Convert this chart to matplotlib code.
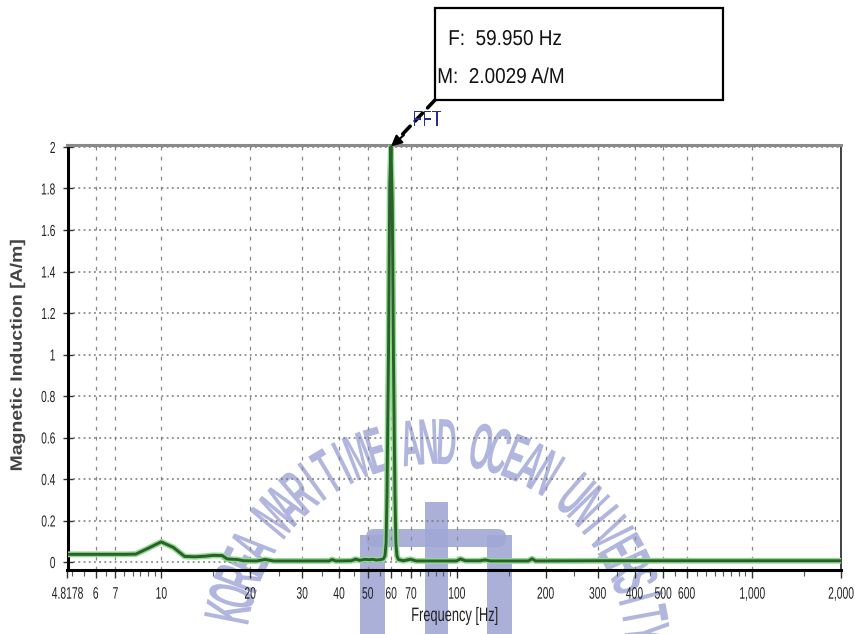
import numpy as np
import matplotlib
matplotlib.use("Agg")
import matplotlib.pyplot as plt
from matplotlib.patches import Rectangle, FancyBboxPatch
from matplotlib.transforms import Affine2D
from matplotlib.patheffects import AbstractPathEffect
from matplotlib.ticker import FixedLocator, LogLocator, NullFormatter

# ---------------- data ----------------
freq_hz = [4.8178, 5.5, 6.5, 7.5, 8.2, 9.0, 10.0, 11.0, 12.0, 13.0, 14.1, 15.0,
           16.1, 16.7, 17.5, 18.1, 19.0, 21.0, 22.5, 24.0, 30.0, 37.0, 37.9,
           39.0, 44.0, 45.5, 47.0, 49.0, 50.5, 52.0, 53.5, 55.5, 56.5, 57.2,
           57.7, 58.1, 58.8, 59.35, 59.95, 60.56, 61.1, 61.85, 62.3, 62.8,
           63.5, 66.0, 69.8, 73.0, 90.0, 100.0, 103.0, 107.0, 120.0, 125.0,
           130.0, 175.0, 180.0, 185.0, 300.0, 2000.0]
magnitude = [0.037, 0.037, 0.037, 0.037, 0.038, 0.065, 0.097, 0.07, 0.027,
             0.025, 0.028, 0.032, 0.031, 0.015, 0.013, 0.012, 0.006, 0.005,
             0.012, 0.005, 0.005, 0.005, 0.012, 0.005, 0.006, 0.014, 0.008,
             0.013, 0.011, 0.013, 0.009, 0.012, 0.015, 0.03, 0.09, 0.31, 1.0,
             1.8, 2.0029, 1.72, 1.0, 0.31, 0.09, 0.03, 0.012, 0.006, 0.013,
             0.005, 0.005, 0.005, 0.015, 0.006, 0.006, 0.01, 0.005, 0.005,
             0.016, 0.005, 0.006, 0.006]

x_ticks = [4.8178, 6, 7, 10, 20, 30, 40, 50, 60, 70, 100, 200, 300, 400, 500,
           600, 1000, 2000]
x_tick_labels = ["4.8178", "6", "7", "10", "20", "30", "40", "50", "60", "70",
                 "100", "200", "300", "400", "500", "600", "1,000", "2,000"]
y_ticks = [0, 0.2, 0.4, 0.6, 0.8, 1.0, 1.2, 1.4, 1.6, 1.8, 2.0]
y_tick_labels = ["0", "0.2", "0.4", "0.6", "0.8", "1", "1.2", "1.4", "1.6",
                 "1.8", "2"]

peak_freq = 59.95
peak_mag = 2.0029
info_lines = ["F:  59.950 Hz", "M:  2.0029 A/M"]
trace_label = "FFT"
x_label = "Frequency [Hz]"
y_label = "Magnetic Induction [A/m]"
watermark_text = "KOREA MARITIME AND OCEAN UNIVERSITY"


# ------------- condensed text rendering (text stays real text) -------------
class Squeeze(AbstractPathEffect):
    def __init__(self, sx=1.0, sy=1.0, anchor="center"):
        super().__init__()
        self.sx, self.sy, self.anchor = sx, sy, anchor

    def draw_path(self, renderer, gc, tpath, affine, rgbFace=None):
        ext = tpath.get_extents()
        if self.anchor == "left":
            ax0 = ext.x0
        elif self.anchor == "right":
            ax0 = ext.x1
        else:
            ax0 = (ext.x0 + ext.x1) / 2
        ay = (ext.y0 + ext.y1) / 2
        pre = (Affine2D().translate(-ax0, -ay).scale(self.sx, self.sy)
               .translate(ax0, ay))
        renderer.draw_path(gc, tpath, pre + affine, rgbFace)


# ---------------- figure ----------------
W_PX, H_PX = 855, 634
fig = plt.figure(figsize=(W_PX / 100, H_PX / 100), dpi=100)
fig.patch.set_facecolor("white")


def fx(px):
    return px / W_PX


def fy(py):
    return 1 - py / H_PX


regular = ["Liberation Sans", "DejaVu Sans"]

# ---------------- watermark (behind everything) ----------------
wm = fig.add_axes([0, 0, 1, 1], zorder=-1)
wm.set_xlim(0, W_PX)
wm.set_ylim(0, H_PX)
wm.axis("off")
wm_color = "#a9aedb"
cx, cy, rad = 436, H_PX - 654, 190
start_deg, step_deg = 168.9, 4.8
for i, ch in enumerate(watermark_text):
    if ch == " ":
        continue
    theta = np.deg2rad(start_deg - i * step_deg)
    wm.text(cx + rad * np.cos(theta), cy + rad * np.sin(theta), ch,
            rotation=np.rad2deg(theta) - 90, rotation_mode="anchor",
            ha="center", va="baseline", family=regular, fontweight="bold",
            fontsize=47, color=wm_color, alpha=0.9,
            path_effects=[Squeeze(sx=0.43)])
emb = "#a2a8d5"
wm.add_patch(FancyBboxPatch((366, H_PX - 547), 140, 18,
                            boxstyle="round,pad=0,rounding_size=8",
                            facecolor=emb, edgecolor="none", alpha=0.9))
for (x0, y0, x1, y1) in [(360, 535, 385, 634), (487, 535, 512, 634),
                         (425, 502, 448, 634)]:
    wm.add_patch(Rectangle((x0, H_PX - y1), x1 - x0, y1 - y0,
                           facecolor=emb, edgecolor="none", alpha=0.9))

# ---------------- main axes ----------------
L, R, T, B = 67.5, 841, 145, 570
ax = fig.add_axes([fx(L), fy(B), fx(R - L), fy(T) - fy(B)], zorder=1)
ax.set_facecolor("none")
ax.set_xscale("log")
ax.set_xlim(4.8178, 2000)
ax.set_ylim(-8 / 207.5, 2 + 2 / 207.5)

ax.plot(freq_hz, magnitude, color="#8fdc8f", lw=4.2, solid_joinstyle="round",
        zorder=3)
ax.plot(freq_hz, magnitude, color="#2c5f2c", lw=2.1, solid_joinstyle="round",
        zorder=4)

ax.xaxis.set_major_locator(FixedLocator(x_ticks))
ax.set_xticklabels(x_tick_labels)
ax.xaxis.set_minor_locator(LogLocator(base=10, subs=np.arange(1, 10, 0.5),
                                      numticks=50))
ax.xaxis.set_minor_formatter(NullFormatter())
ax.set_yticks(y_ticks)
ax.set_yticklabels(y_tick_labels)

for lab in ax.get_xticklabels():
    lab.set_family(regular)
    lab.set_fontsize(12)
    lab.set_color("#222222")
    lab.set_path_effects([Squeeze(sx=0.62, anchor="center")])
for lab in ax.get_yticklabels():
    lab.set_family(regular)
    lab.set_fontsize(11.5)
    lab.set_color("#222222")
    lab.set_path_effects([Squeeze(sx=0.64, anchor="right")])

ax.tick_params(axis="x", which="major", direction="out", length=6, width=1,
               pad=6, color="#333333")
ax.tick_params(axis="x", which="minor", direction="out", length=4, width=0.8,
               color="#555555")
ax.tick_params(axis="y", which="major", direction="inout", length=7, width=1,
               pad=5, color="#333333")

# grid
ax.grid(True, axis="y", which="major", linestyle=(0, (1.2, 2.2)),
        color="#777777", lw=1.1, zorder=1)
ax.grid(True, axis="x", which="major", linestyle=(0, (3, 5)),
        color="#888888", lw=0.9, zorder=1)

for side in ["left", "bottom"]:
    ax.spines[side].set_color("black")
    ax.spines[side].set_linewidth(2.2)
ax.spines["right"].set_color("#333333")
ax.spines["right"].set_linewidth(1.3)
ax.spines["top"].set_color("#8a8a8a")
ax.spines["top"].set_linewidth(2.2)

fig.text(fx(455), fy(621), x_label, ha="center", va="baseline",
         family=regular, fontsize=14, color="#222222",
         path_effects=[Squeeze(sx=0.66)])
fig.text(fx(18), fy(355), y_label, ha="center", va="center", rotation=90,
         family=regular, fontsize=14, color="#444444", fontweight="bold",
         path_effects=[Squeeze(sy=0.85)])

# ---------------- annotation box ----------------
box = Rectangle((fx(435), fy(100)), fx(723 - 435), fy(8) - fy(100),
                transform=fig.transFigure, facecolor="white",
                edgecolor="black", lw=1.6, zorder=5)
fig.patches.append(box)
fig.text(fx(448), fy(45), info_lines[0], ha="left", va="baseline",
         family=regular, fontsize=15.5, color="#111111", zorder=6,
         path_effects=[Squeeze(sx=0.88, anchor="left")])
fig.text(fx(437), fy(83), info_lines[1], ha="left", va="baseline",
         family=regular, fontsize=15.5, color="#111111", zorder=6,
         path_effects=[Squeeze(sx=0.88, anchor="left")])

fig.text(fx(427), fy(126), trace_label, ha="center", va="baseline",
         family=regular, fontsize=16, color="#2a2a99", zorder=6,
         path_effects=[Squeeze(sx=0.72)])

# dashed leader line + arrow head
ax.annotate("", xy=(peak_freq, peak_mag), xycoords="data",
            xytext=(fx(435), fy(100)), textcoords="figure fraction",
            arrowprops=dict(arrowstyle="-", linestyle=(0, (3, 2)), lw=2.6,
                            color="black", shrinkA=0, shrinkB=6),
            annotation_clip=False, zorder=6)
ax.annotate("", xy=(peak_freq, peak_mag), xycoords="data",
            xytext=(fx(404), fy(135)), textcoords="figure fraction",
            arrowprops=dict(arrowstyle="-|>", lw=1.5, color="black",
                            mutation_scale=16, shrinkA=0, shrinkB=0),
            annotation_clip=False, zorder=6)

fig.savefig("out.png", dpi=100, facecolor="white")
